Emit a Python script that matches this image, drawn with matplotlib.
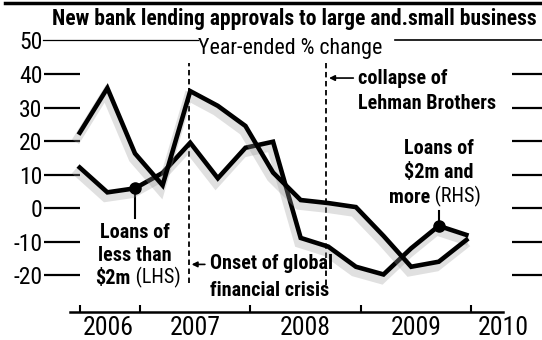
import matplotlib
matplotlib.use('Agg')
import matplotlib.pyplot as plt
import matplotlib.patheffects as pe
from matplotlib import font_manager, transforms
from matplotlib.lines import Line2D

# quarterly data, year-ended % change
q_years = [2006, 2006, 2006, 2007, 2007, 2007, 2007, 2008, 2008, 2008, 2008, 2009, 2009, 2009, 2009]
q_months = [6, 9, 12, 3, 6, 9, 12, 3, 6, 9, 12, 3, 6, 9, 12]
small_loans = [12.1, 4.7, 5.9, 10.5, 19.5, 8.9, 18.0, 19.8, -8.9, -11.5, -17.5, -19.8, -12.0, -5.3, -8.0]
large_loans = [22.5, 35.8, 16.3, 6.8, 34.9, 30.5, 24.5, 10.6, 2.4, 1.5, 0.3, -8.3, -17.5, -16.0, -9.5]

year_labels = ['2006', '2007', '2008', '2009', '2010']
y_ticks = [-20, -10, 0, 10, 20, 30, 40, 50]
onset_gfc = 2007.446
lehman = 2008.69

x = [y + (m - 0.5) / 12 for y, m in zip(q_years, q_months)]

# pick a narrow font if there is one
names = {f.name for f in font_manager.fontManager.ttflist}
COND = 'DejaVu Sans'
for cand in ['Liberation Sans Narrow', 'Roboto Condensed', 'DejaVu Sans Condensed', 'Open Sans Condensed']:
    if cand in names:
        COND = cand
        break
plt.rcParams['font.family'] = COND
plt.rcParams['font.stretch'] = 'condensed'

W, H = 542, 340
fig = plt.figure(figsize=(W / 100, H / 100), dpi=100)
ax = fig.add_axes([70 / W, 28 / H, 433 / W, (312 - 40.5) / H])
ax.set_xlim(2006.370, 2010.157)
ax.set_ylim(-31, 50)

shadow = [pe.SimpleLineShadow(offset=(-1.5, -4), shadow_color='0.6', alpha=0.3, linewidth=6), pe.Normal()]
ax.plot(x, small_loans, color='black', lw=3.3, solid_joinstyle='miter', path_effects=shadow, zorder=3)
ax.plot(x, large_loans, color='black', lw=3.3, solid_joinstyle='miter', path_effects=shadow, zorder=3)

for s in ['top', 'left', 'right']:
    ax.spines[s].set_visible(False)
ax.spines['bottom'].set_linewidth(1.8)

# x axis: ticks at year boundaries, labels mid-year
ax.set_xticks([x[0], 2007, 2008, 2009, 2010])
ax.set_xticklabels([])
ax.tick_params(axis='x', which='major', direction='in', length=5, width=1.5)
ax.set_xticks([2006.72, 2007.5, 2008.5, 2009.5, 2010.29], minor=True)
ax.set_xticklabels(year_labels, minor=True, fontsize=18.5)
ax.tick_params(axis='x', which='minor', length=0, pad=3)

# y axis: long tick dashes on both sides
ax.spines['left'].set_position(('axes', 10 / 433))
ax.spines['right'].set_position(('axes', 1 + 9 / 433))
ax.set_yticks(y_ticks)
ax.set_yticklabels([str(v) for v in y_ticks], fontsize=17)
ax.tick_params(axis='y', direction='out', length=26, width=1.6, pad=1,
               left=True, right=True, labelleft=True, labelright=False)
ax.yaxis.get_major_ticks()[-1].tick1line.set_visible(False)
ax.yaxis.get_major_ticks()[-1].tick2line.set_visible(False)

# top rule at 50, broken by the subtitle
tr = transforms.blended_transform_factory(fig.transFigure, ax.transData)
ax.plot([43 / W, 198 / W], [50, 50], transform=tr, color='black', lw=0.9, clip_on=False)
ax.plot([395 / W, 1], [50, 50], transform=tr, color='black', lw=1.2, clip_on=False)
ax.text(2008.36, 47.6, 'Year-ended % change', ha='center', va='center', fontsize=15.8)

fig.add_artist(Line2D([5 / W, 1], [1 - 2.5 / H, 1 - 2.5 / H], color='black', lw=2.5))
fig.text(52 / W, 1 - 19 / H, 'New bank lending approvals to large and.small business',
         ha='left', va='center', fontsize=15.5, fontweight='bold')

# event lines
ax.plot([onset_gfc, onset_gfc], [-22.4, 43.3], color='black', lw=1.3, ls=(0, (3, 2)), zorder=2)
ax.plot([lehman, lehman], [-23, 43.3], color='black', lw=1.3, ls=(0, (3, 2)), zorder=2)

ax.annotate('', xy=(onset_gfc, -16.8), xytext=(onset_gfc + 0.17, -16.8),
            arrowprops=dict(arrowstyle='-|>', color='black', lw=1.2, mutation_scale=8))
ax.text(onset_gfc + 0.19, -16.6, 'Onset of global', ha='left', va='center', fontsize=14.5, fontweight='bold')
ax.text(onset_gfc + 0.19, -24.6, 'financial crisis', ha='left', va='center', fontsize=14.5, fontweight='bold')

ax.annotate('', xy=(lehman, 38.8), xytext=(lehman + 0.27, 38.8),
            arrowprops=dict(arrowstyle='-|>', color='black', lw=1.2, mutation_scale=8))
ax.text(lehman + 0.29, 38.8, 'collapse of', ha='left', va='center', fontsize=14.5, fontweight='bold')
ax.text(lehman + 0.29, 31.3, 'Lehman Brothers', ha='left', va='center', fontsize=14.5, fontweight='bold')

# series labels with pointer dots
ax.plot([x[2], x[2]], [small_loans[2], -3], color='black', lw=1.5)
ax.plot([x[2]], [small_loans[2]], 'o', color='black', ms=8, zorder=4)
ax.text(x[2], -7.2, 'Loans of', ha='center', va='center', fontsize=14.5, fontweight='bold')
ax.text(x[2], -14.0, 'less than', ha='center', va='center', fontsize=14.5, fontweight='bold')
t1 = ax.text(x[2] - 0.04, -20.9, '$2m', ha='right', va='center', fontsize=14.5, fontweight='bold')
ax.annotate(' (LHS)', xy=(1, 0), xycoords=t1, ha='left', va='bottom', fontsize=14.5)

ax.plot([x[13], x[13]], [small_loans[13], small_loans[13] + 4.5], color='black', lw=1.5)
ax.plot([x[13]], [small_loans[13]], 'o', color='black', ms=8, zorder=4)
ax.text(x[13], 17.9, 'Loans of', ha='center', va='center', fontsize=14.5, fontweight='bold')
ax.text(x[13], 10.7, '$2m and', ha='center', va='center', fontsize=14.5, fontweight='bold')
t2 = ax.text(x[13] - 0.08, 3.3, 'more', ha='right', va='center', fontsize=14.5, fontweight='bold')
ax.annotate(' (RHS)', xy=(1, 0), xycoords=t2, ha='left', va='bottom', fontsize=14.5)

fig.savefig('out.png', dpi=100)
